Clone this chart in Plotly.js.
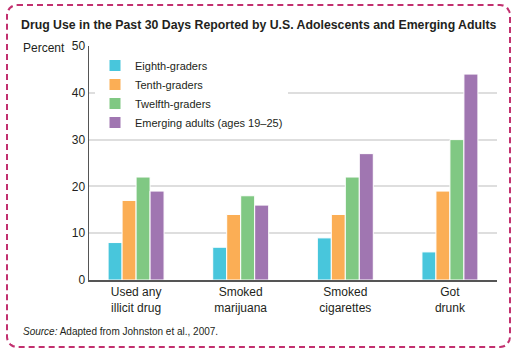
<!DOCTYPE html>
<html>
<head>
<meta charset="utf-8">
<script src="https://cdn.plot.ly/plotly-3.0.1.min.js"></script>
<style>
html,body{margin:0;padding:0;background:#fff;}
#wrap{position:relative;width:518px;height:355px;}
#frame{position:absolute;left:6px;top:4px;width:505px;height:344px;border:2px dashed #c2306f;border-radius:11px;box-sizing:border-box;pointer-events:none;}
#chart{position:absolute;left:0;top:0;width:518px;height:355px;}
</style>
</head>
<body>
<div id="wrap">
<div id="chart"></div>
<div id="frame"></div>
</div>
<script>
const categories = ["Used any<br>illicit drug", "Smoked<br>marijuana", "Smoked<br>cigarettes", "Got<br>drunk"];
const seriesNames = ["Eighth-graders", "Tenth-graders", "Twelfth-graders", "Emerging adults (ages 19\u201325)"];
const eighth = [8, 7, 9, 6];
const tenth = [17, 14, 14, 19];
const twelfth = [22, 18, 22, 30];
const emerging = [19, 16, 27, 44];
const colors = ["#48c6dc", "#fbae55", "#80c883", "#a076b1"];
const yTicks = [0, 10, 20, 30, 40, 50];

const values = [eighth, tenth, twelfth, emerging];
const traces = values.map((v, i) => ({
  type: 'bar',
  x: categories,
  y: v,
  name: seriesNames[i],
  marker: {color: colors[i], line: {color: '#ffffff', width: 1}},
  hoverinfo: 'none'
}));

const W = 518, H = 355, L = 89, R = 21, T = 46, B = 75;
const pw = W - L - R, ph = H - T - B;
const px = x => (x - L) / pw;
const py = y => (H - B - y) / ph;

const font = 'Liberation Sans, Arial, Helvetica, sans-serif';

const layout = {
  width: W, height: H,
  margin: {l: L, r: R, t: T, b: B, pad: 0},
  paper_bgcolor: 'rgba(0,0,0,0)',
  plot_bgcolor: '#ffffff',
  font: {family: font, color: '#231f20', size: 12},
  barmode: 'group',
  bargap: 0.465,
  bargroupgap: 0,
  showlegend: true,
  title: {
    text: '<b>Drug Use in the Past 30 Days Reported by U.S. Adolescents and Emerging Adults</b>',
    font: {family: font, size: 12.3, color: '#231f20'},
    xref: 'container', yref: 'container',
    x: 21 / W, xanchor: 'left',
    y: 1 - 25 / H, yanchor: 'middle'
  },
  xaxis: {
    type: 'category',
    range: [-0.45, 3.45],
    showline: true, linecolor: '#555555', linewidth: 1.5,
    ticks: '', showgrid: false,
    tickfont: {size: 12, color: '#231f20'},
    fixedrange: true
  },
  yaxis: {
    range: [0, 50],
    tickvals: yTicks,
    ticktext: yTicks.map(String),
    showline: true, linecolor: '#555555', linewidth: 1.5,
    showgrid: true, gridcolor: '#dedede', gridwidth: 2,
    zeroline: false,
    ticks: '', ticklabelstandoff: 0,
    tickfont: {size: 12, color: '#231f20'},
    fixedrange: true
  },
  legend: {
    x: px(95), xanchor: 'left',
    y: py(51), yanchor: 'top',
    bgcolor: '#ffffff',
    font: {size: 11, color: '#231f20', family: font},
    tracegroupgap: 0,
    itemclick: false
  },
  annotations: [
    {text: 'Percent', xref: 'paper', yref: 'paper', x: px(21), y: py(48), xanchor: 'left', yanchor: 'middle', showarrow: false, font: {size: 12, color: '#231f20'}},
    {text: '<i>Source:</i> Adapted from Johnston et al., 2007.', xref: 'paper', yref: 'paper', x: px(21), y: py(331), xanchor: 'left', yanchor: 'middle', showarrow: false, font: {size: 10, color: '#231f20'}}
  ]
};

Plotly.newPlot('chart', traces, layout, {displayModeBar: false, staticPlot: true});
</script>
</body>
</html>
